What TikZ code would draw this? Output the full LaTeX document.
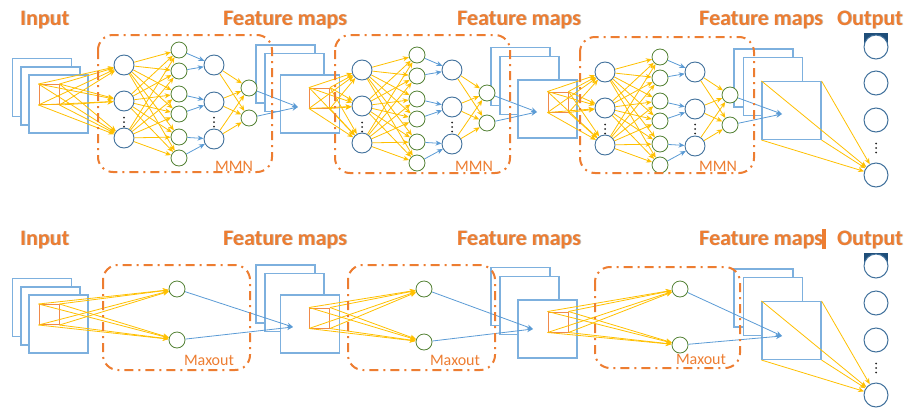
\documentclass[tikz,border=0pt]{standalone}
\usepackage{fontspec}
\setmainfont{Carlito}
\usetikzlibrary{arrows.meta}
\definecolor{orng}{HTML}{ED7D31}
\definecolor{ylw}{HTML}{FFC000}
\definecolor{blu}{HTML}{5B9BD5}
\definecolor{frm}{HTML}{7DB0DE}
\definecolor{nblue}{HTML}{41719C}
\definecolor{ngreen}{HTML}{548235}
\definecolor{ptc}{HTML}{F08A4B}
\definecolor{dkblue}{HTML}{1F4E79}
\definecolor{shd}{HTML}{BFBFBF}
\tikzset{
 bnode/.style={circle,draw=nblue,fill=white,line width=0.9pt,minimum size=20pt,inner sep=0pt},
 gnode/.style={circle,draw=ngreen,fill=white,line width=0.8pt,minimum size=16pt,inner sep=0pt},
 onode/.style={circle,draw=nblue,fill=white,line width=1pt,minimum size=24pt,inner sep=0pt},
 fmap/.style={rectangle,draw=frm,fill=white,line width=1.1pt,minimum width=59pt,minimum height=58pt,inner sep=0pt},
 ptch/.style={rectangle,draw=ptc,line width=1pt,minimum width=20pt,minimum height=20pt,inner sep=0pt},
 yarr/.style={ylw,line width=0.8pt,-{Stealth[length=6pt,width=5pt]}},
 barr/.style={blu,line width=0.8pt,-{Stealth[length=6pt,width=5pt]}},
 grp/.style={orng,line width=2pt,rounded corners=15pt,dash pattern=on 9pt off 5pt on 2pt off 5pt},
 ttl/.style={text=orng,font=\fontsize{22}{24}\selectfont\bfseries,anchor=base west,inner sep=0pt},
 shadowt/.style={text=shd,font=\fontsize{22}{24}\selectfont\bfseries,anchor=base west,inner sep=0pt},
 glabel/.style={text=orng,font=\fontsize{16}{18}\selectfont,anchor=base,inner sep=0pt},
 dotc/.style={fill=black!85},
}
\newcommand\lbl[4]{\node[shadowt] (#1s) at (#2+0.9,#3+0.9) {#4};\node[ttl] (#1) at (#2,#3) {#4};}
\newcommand\vdotsat[2]{\fill[dotc] (#1,#2-4.5) circle[radius=1pt] (#1,#2) circle[radius=1pt] (#1,#2+4.5) circle[radius=1pt];}
\newcommand\mmngroup[3]{%
 \begin{scope}[shift={(#2,#3)}]
  \foreach \i/\yy in {1/0,2/36,3/73} {\node[bnode] (#1a\i) at (0,\yy) {};}
  \foreach \i/\yy in {1/-15,2/6,3/29,4/49,5/72,6/93} {\node[gnode] (#1b\i) at (55,\yy) {};}
  \foreach \i/\yy in {1/0,2/37,3/74} {\node[bnode] (#1c\i) at (90,\yy) {};}
  \foreach \i/\yy in {1/23,2/53} {\node[gnode] (#1d\i) at (125,\yy) {};}
  \vdotsat{0}{57}
  \vdotsat{90}{57}
 \end{scope}
 \foreach \i in {1,2,3} {\foreach \j in {1,...,6} {\draw[yarr] (#1a\i) -- (#1b\j);}}
 \draw[barr] (#1b1) -- (#1c1);
 \draw[barr] (#1b2) -- (#1c1);
 \draw[barr] (#1b3) -- (#1c2);
 \draw[barr] (#1b4) -- (#1c2);
 \draw[barr] (#1b5) -- (#1c3);
 \draw[barr] (#1b6) -- (#1c3);
 \foreach \i in {1,2,3} {\foreach \j in {1,2} {\draw[yarr] (#1c\i) -- (#1d\j);}}
}
\begin{document}
\begin{tikzpicture}[x=1pt,y=-1pt]
\useasboundingbox (0,0) rectangle (907,410);
% ---------------- TOP ROW ----------------
% frames
\node[fmap] (ti1) at (42,87.5) {};
\node[fmap] (ti2) at (50.5,96) {};
\node[fmap] (ti3) at (58.5,104) {};
\node[fmap] (ta1) at (285.5,74) {};
\node[fmap] (ta2) at (294.5,82.5) {};
\node[fmap] (ta3) at (310,104) {};
\node[fmap] (tb1) at (520.5,76.5) {};
\node[fmap] (tb2) at (529.5,85.5) {};
\node[fmap] (tb3) at (547.5,109) {};
\node[fmap] (tc1) at (763.5,78) {};
\node[fmap] (tc2) at (773,86.5) {};
\node[fmap] (tc3) at (791.5,110.5) {};
% patches
\node[ptch] (tpi) at (49,94.5) {};
\node[ptch] (tpa) at (319.5,98) {};
\node[ptch] (tpb) at (558,102) {};
% groups
\mmngroup{g1}{124}{65}
\mmngroup{g2}{362}{70}
\mmngroup{g3}{605}{72}
% fans
\foreach \c in {north west,north east,south west,south east} {
 \foreach \i in {1,2,3} {
  \draw[yarr] (tpi.\c) -- (g1a\i);
  \draw[yarr] (tpa.\c) -- (g2a\i);
  \draw[yarr] (tpb.\c) -- (g3a\i);
 }
}
\coordinate (tt1) at (298,107);
\coordinate (tt2) at (537,112);
\coordinate (tt3) at (782,114);
\foreach \j in {1,2} {
 \draw[barr] (g1d\j) -- (tt1);
 \draw[barr] (g2d\j) -- (tt2);
 \draw[barr] (g3d\j) -- (tt3);
}
% output
\fill[dkblue] (864,33) rectangle (888,45);
\node[onode] (to1) at (876,47) {};
\node[onode] (to2) at (876,83) {};
\node[onode] (to3) at (876,120) {};
\node[onode] (to4) at (876,175) {};
\vdotsat{876}{148}
\foreach \c in {north west,north east,south west,south east} {\draw[yarr] (tc3.\c) -- (to4);}
% boxes
\draw[grp] (98,35) rectangle (272,172);
\draw[grp] (335,35) rectangle (510,173);
\draw[grp] (580,37) rectangle (754,173);
\node[glabel] (mmn1) at (234,171) {MMN};
\node[glabel] (mmn2) at (474,171) {MMN};
\node[glabel] (mmn3) at (718,171) {MMN};
% titles
\lbl{tin}{20}{25}{Input}
\lbl{tf1}{223}{25}{Feature maps}
\lbl{tf2}{457}{25}{Feature maps}
\lbl{tf3}{699}{25}{Feature maps}
\lbl{tout}{837}{25}{Output}
% ---------------- BOTTOM ROW ----------------
\node[fmap] (bi1) at (42,307.5) {};
\node[fmap] (bi2) at (50.5,316) {};
\node[fmap] (bi3) at (58.5,324) {};
\node[fmap] (ba1) at (285.5,294) {};
\node[fmap] (ba2) at (294.5,302.5) {};
\node[fmap] (ba3) at (310,324) {};
\node[fmap] (bb1) at (520.5,296.5) {};
\node[fmap] (bb2) at (529.5,305.5) {};
\node[fmap] (bb3) at (547.5,329) {};
\node[fmap] (bc1) at (763.5,298) {};
\node[fmap] (bc2) at (773,306.5) {};
\node[fmap] (bc3) at (791.5,330.5) {};
\node[ptch] (bpi) at (49,314.5) {};
\node[ptch] (bpa) at (319.5,318) {};
\node[ptch] (bpb) at (558,322) {};
\node[gnode] (m1a) at (177,289) {};
\node[gnode] (m1b) at (177,340) {};
\node[gnode] (m2a) at (424,289) {};
\node[gnode] (m2b) at (424,342) {};
\node[gnode] (m3a) at (680,289) {};
\node[gnode] (m3b) at (680,345) {};
\foreach \c in {north west,north east,south west,south east} {
 \foreach \m in {a,b} {
  \draw[yarr] (bpi.\c) -- (m1\m);
  \draw[yarr] (bpa.\c) -- (m2\m);
  \draw[yarr] (bpb.\c) -- (m3\m);
 }
}
\coordinate (bt1) at (293,327);
\coordinate (bt2) at (533,329);
\coordinate (bt3) at (782,336);
\foreach \m in {a,b} {
 \draw[barr] (m1\m) -- (bt1);
 \draw[barr] (m2\m) -- (bt2);
 \draw[barr] (m3\m) -- (bt3);
}
\fill[dkblue] (864,253) rectangle (888,265);
\node[onode] (bo1) at (876,266) {};
\node[onode] (bo2) at (876,303) {};
\node[onode] (bo3) at (876,340) {};
\node[onode] (bo4) at (876,395) {};
\vdotsat{876}{368}
\foreach \c in {north west,north east,south west,south east} {\draw[yarr] (bc3.\c) -- (bo4);}
\draw[grp] (103,265) rectangle (250,370);
\draw[grp] (348,265) rectangle (495,370);
\draw[grp] (595,267) rectangle (740,368);
\node[glabel] (mx1) at (209,365) {Maxout};
\node[glabel] (mx2) at (455,365) {Maxout};
\node[glabel] (mx3) at (701,364) {Maxout};
\lbl{bin}{20}{245}{Input}
\lbl{bf1}{223}{245}{Feature maps}
\lbl{bf2}{457}{245}{Feature maps}
\lbl{bf3}{699}{245}{Feature maps}
\fill[orng] (822,229) rectangle (826,249);
\lbl{bout}{837}{245}{Output}
\end{tikzpicture}
\end{document}
